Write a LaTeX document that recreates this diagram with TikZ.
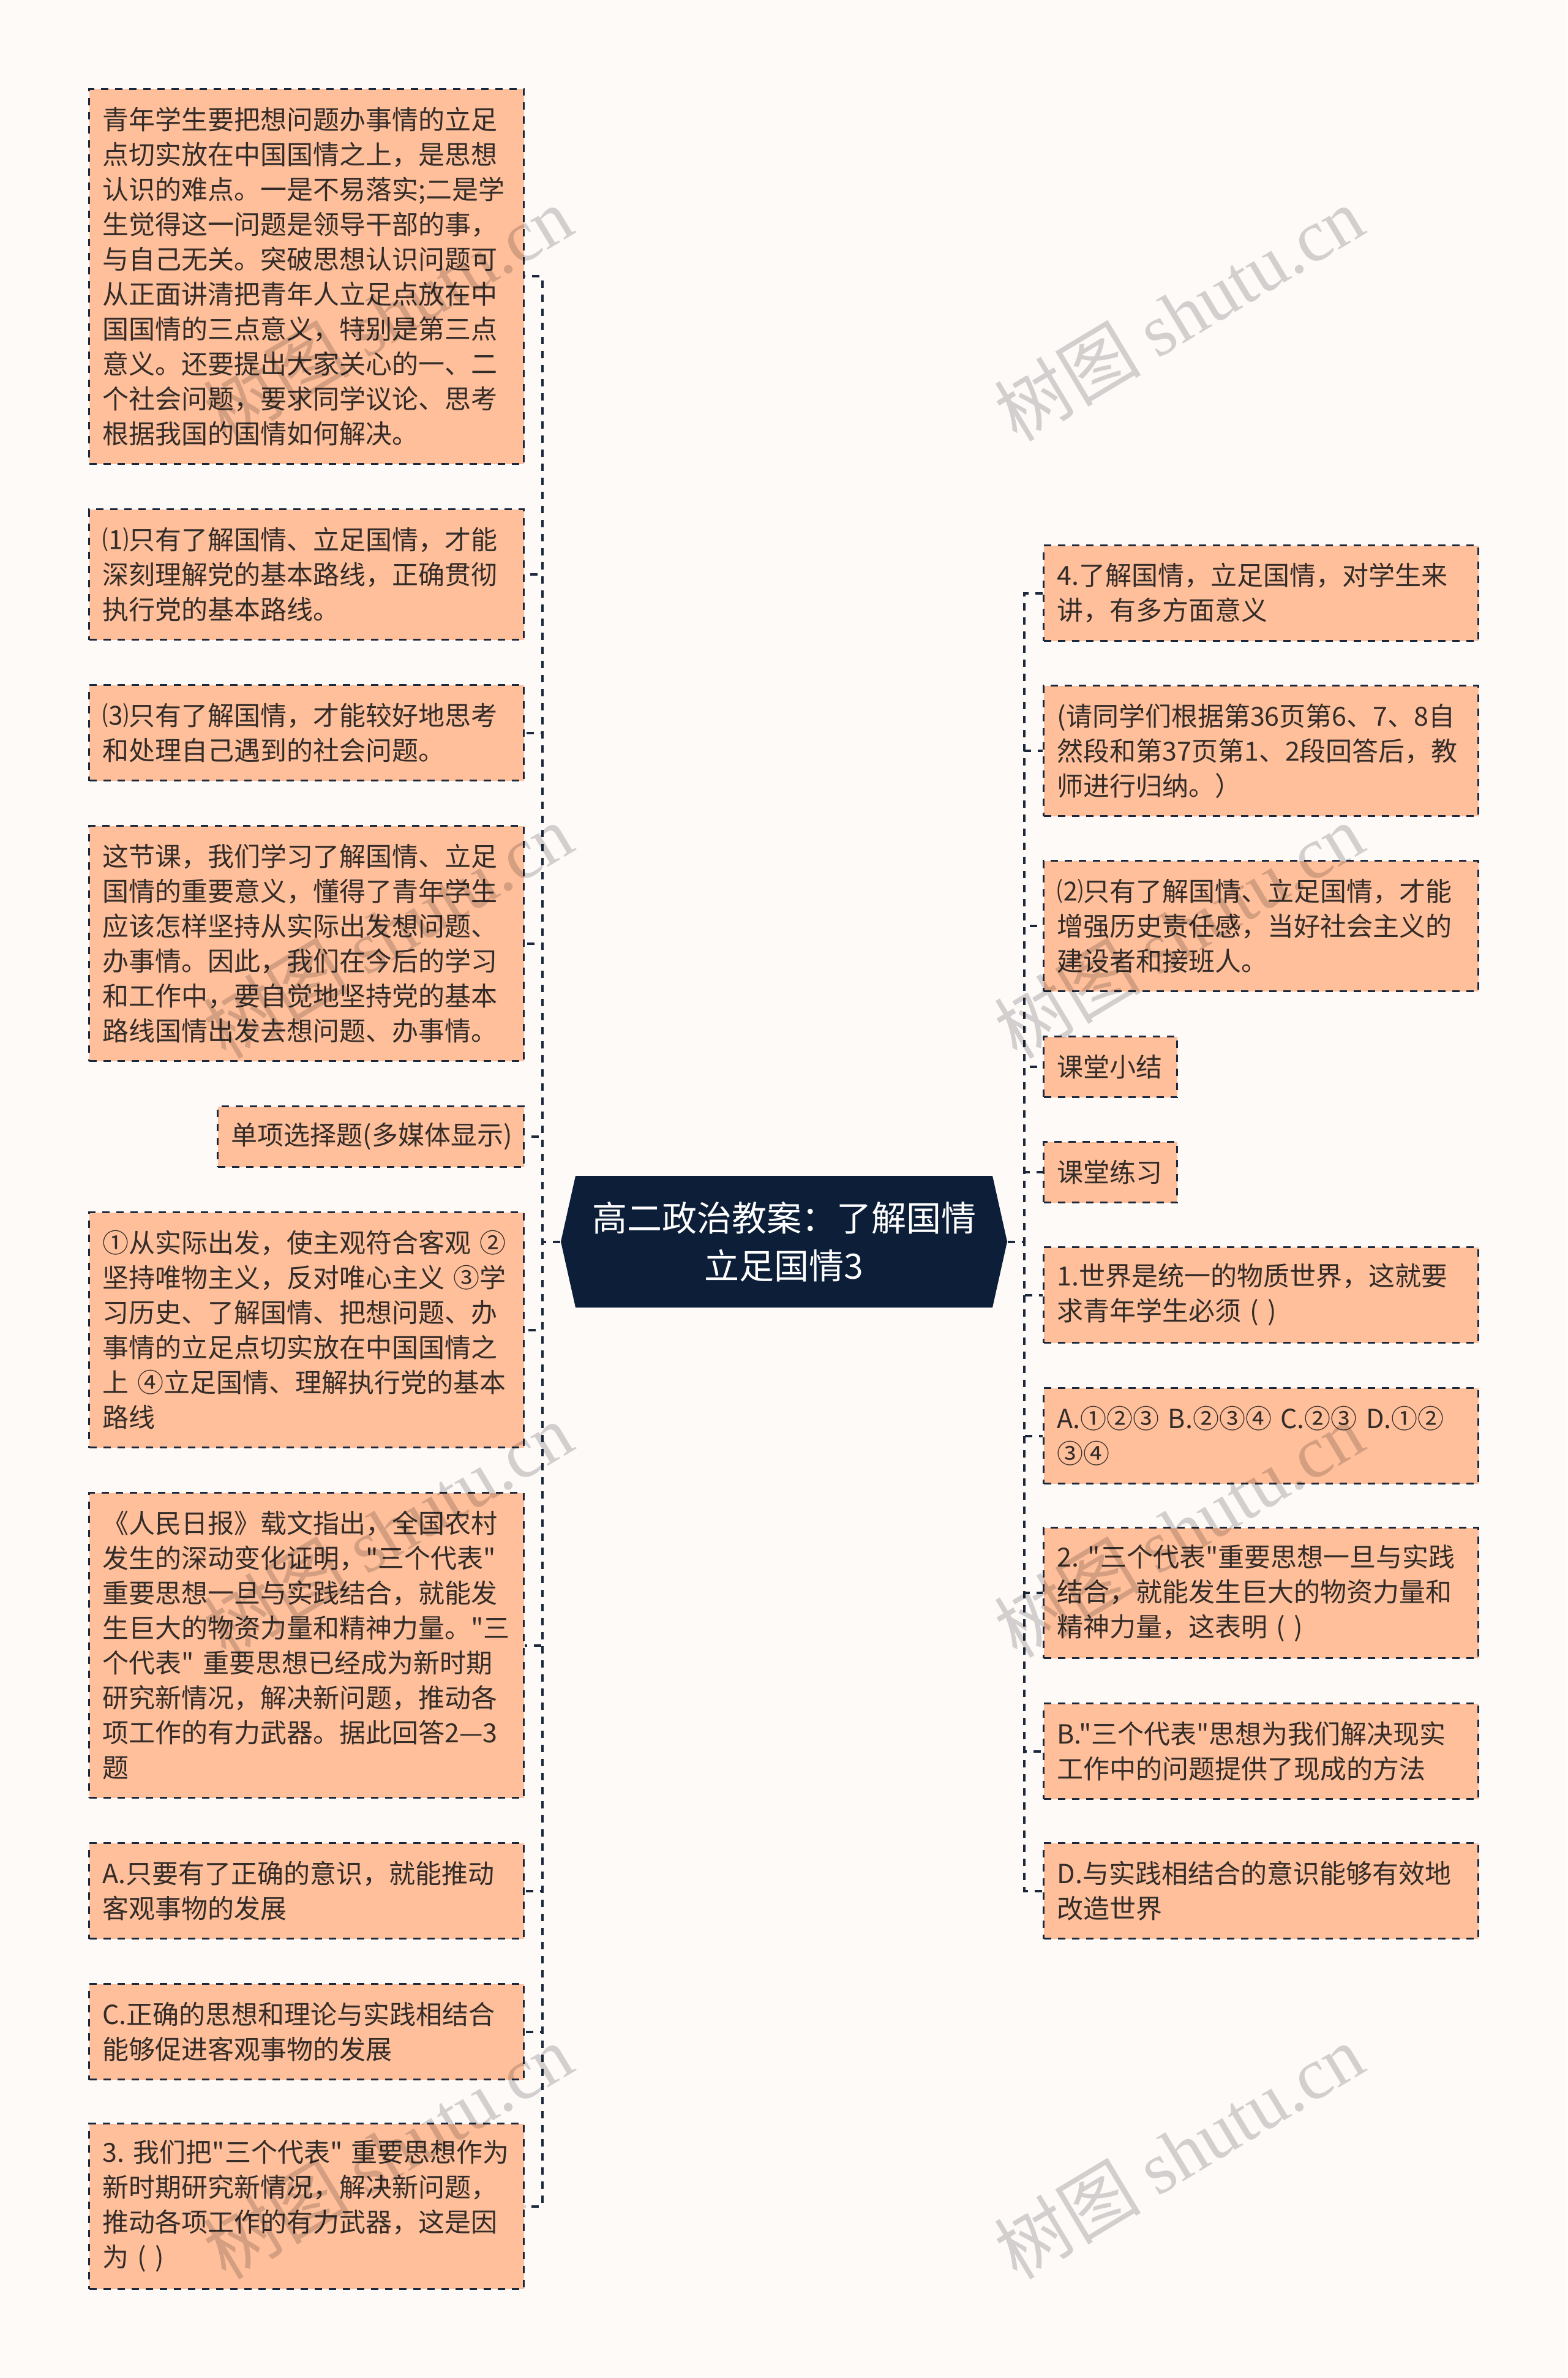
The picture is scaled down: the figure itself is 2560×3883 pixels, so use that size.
\documentclass[tikz,border=0pt]{standalone}
\usepackage{fontspec}
\setmainfont{Noto Sans CJK SC}[Ligatures=TeXOff]
\newfontfamily\wmlatin{Liberation Serif}
\newfontfamily\wmcjk{Noto Sans CJK SC}
\definecolor{bgc}{RGB}{253,250,248}
\definecolor{peach}{RGB}{255,191,155}
\definecolor{linec}{RGB}{27,40,60}
\definecolor{navyc}{RGB}{13,31,56}
\definecolor{txtc}{RGB}{52,44,40}
\newcommand{\bodyfont}{\fontsize{10.75pt}{14.25pt}\selectfont}
\newcommand{\titlefont}{\fontsize{14.25pt}{19.5pt}\selectfont}
\tikzset{
  box/.style={draw=linec, line width=0.75pt, dash pattern=on 3pt off 2.75pt,
    fill=peach, anchor=north west, inner xsep=5.5pt, inner ysep=0pt,
    align=left, text=txtc, font=\bodyfont},
  widebox/.style={box, text width=166.5pt},
  conn/.style={draw=linec, line width=1pt, dash pattern=on 3pt off 2.75pt},
  wm/.style={text=black, opacity=0.17, font=\fontsize{30pt}{34pt}\selectfont, inner sep=0pt},
}
\begin{document}
\begin{tikzpicture}[x=0.25pt,y=-0.25pt]
\fill[bgc] (0,0) rectangle (2560,3883);
\useasboundingbox (0,0) rectangle (2560,3883);

% centre
\node[minimum width=182.25pt, minimum height=53.75pt, inner sep=0pt,
  align=center, text=white, font=\titlefont,
  path picture={\fill[navyc] (path picture bounding box.west)
     -- ([xshift=6pt]path picture bounding box.north west)
     -- ([xshift=-6pt]path picture bounding box.north east)
     -- (path picture bounding box.east)
     -- ([xshift=-6pt]path picture bounding box.south east)
     -- ([xshift=6pt]path picture bounding box.south west) -- cycle;}]
  (C) at (1280.5,2027.5) {高二政治教案：了解国情\\立足国情3};

% left column
\node[widebox, minimum height=153pt] (L1) at (144,144) {青年学生要把想问题办事情的立足\\点切实放在中国国情之上，是思想\\认识的难点。一是不易落实;二是学\\生觉得这一问题是领导干部的事，\\与自己无关。突破思想认识问题可\\从正面讲清把青年人立足点放在中\\国国情的三点意义，特别是第三点\\意义。还要提出大家关心的一、二\\个社会问题，要求同学议论、思考\\根据我国的国情如何解决。};
\node[widebox, minimum height=53.25pt] (L2) at (144,830) {⑴只有了解国情、立足国情，才能\\深刻理解党的基本路线，正确贯彻\\执行党的基本路线。};
\node[widebox, minimum height=39pt] (L3) at (144,1117) {⑶只有了解国情，才能较好地思考\\和处理自己遇到的社会问题。};
\node[widebox, minimum height=96pt] (L4) at (144,1347) {这节课，我们学习了解国情、立足\\国情的重要意义，懂得了青年学生\\应该怎样坚持从实际出发想问题、\\办事情。因此，我们在今后的学习\\和工作中，要自觉地坚持党的基本\\路线国情出发去想问题、办事情。};
\node[box, text width=114pt, minimum height=24.75pt] (L5) at (354,1805) {单项选择题(多媒体显示)};
\node[widebox, minimum height=96pt] (L6) at (144,1978) {①从实际出发，使主观符合客观~②\\坚持唯物主义，反对唯心主义~③学\\习历史、了解国情、把想问题、办\\事情的立足点切实放在中国国情之\\上~④立足国情、理解执行党的基本\\路线};
\node[widebox, minimum height=124.5pt] (L7) at (144,2436) {《人民日报》载文指出，全国农村\\发生的深动变化证明，"三个代表"\\重要思想一旦与实践结合，就能发\\生巨大的物资力量和精神力量。"三\\个代表"~重要思想已经成为新时期\\研究新情况，解决新问题，推动各\\项工作的有力武器。据此回答2—3\\题};
\node[widebox, minimum height=39pt] (L8) at (144,3008) {A.只要有了正确的意识，就能推动\\客观事物的发展};
\node[widebox, minimum height=39pt] (L9) at (144,3238) {C.正确的思想和理论与实践相结合\\能够促进客观事物的发展};
\node[widebox, minimum height=67.5pt] (L10) at (144,3466) {3.~我们把"三个代表"~重要思想作为\\新时期研究新情况，解决新问题，\\推动各项工作的有力武器，这是因\\为~(~)};

% right column
\node[widebox, minimum height=39pt] (R1) at (1703,889) {4.了解国情，立足国情，对学生来\\讲，有多方面意义};
\node[widebox, minimum height=53.25pt] (R2) at (1703,1118) {(请同学们根据第36页第6、7、8自\\然段和第37页第1、2段回答后，教\\师进行归纳。）};
\node[widebox, minimum height=53.25pt] (R3) at (1703,1404) {⑵只有了解国情、立足国情，才能\\增强历史责任感，当好社会主义的\\建设者和接班人。};
\node[box, text width=43.5pt, minimum height=24.75pt] (R4) at (1703,1691) {课堂小结};
\node[box, text width=43.5pt, minimum height=24.75pt] (R5) at (1703,1863) {课堂练习};
\node[widebox, minimum height=39pt] (R6) at (1703,2035) {1.世界是统一的物质世界，这就要\\求青年学生必须~(~)};
\node[widebox, minimum height=39pt] (R7) at (1703,2265) {A.①②③~B.②③④~C.②③~D.①②\\③④};
\node[widebox, minimum height=53.25pt] (R8) at (1703,2493) {2.~"三个代表"重要思想一旦与实践\\结合，就能发生巨大的物资力量和\\精神力量，这表明~(~)};
\node[widebox, minimum height=39pt] (R9) at (1703,2780) {B."三个代表"思想为我们解决现实\\工作中的问题提供了现成的方法};
\node[widebox, minimum height=39pt] (R10) at (1703,3008) {D.与实践相结合的意识能够有效地\\改造世界};

% connectors
\coordinate (TL) at (886,2027.5);
\coordinate (TR) at (1673,2027.5);
\foreach \n in {L1,L2,L3,L4,L5,L6,L7,L8,L9,L10}
  \draw[conn] (C.west) -- (TL) |- (\n.east);
\foreach \n in {R1,R2,R3,R4,R5,R6,R7,R8,R9,R10}
  \draw[conn] (C.east) -- (TR) |- (\n.west);

% watermarks
\foreach \i/\xx/\yy in {1/633/512,2/1925/512,3/633/1520,4/1925/1520,5/633/2498,6/1925/2498,7/633/3513,8/1925/3513}
  \node[wm, rotate=31] (W\i) at (\xx,\yy) {{\wmcjk 树图} {\wmlatin shutu.cn}};
\end{tikzpicture}
\end{document}
